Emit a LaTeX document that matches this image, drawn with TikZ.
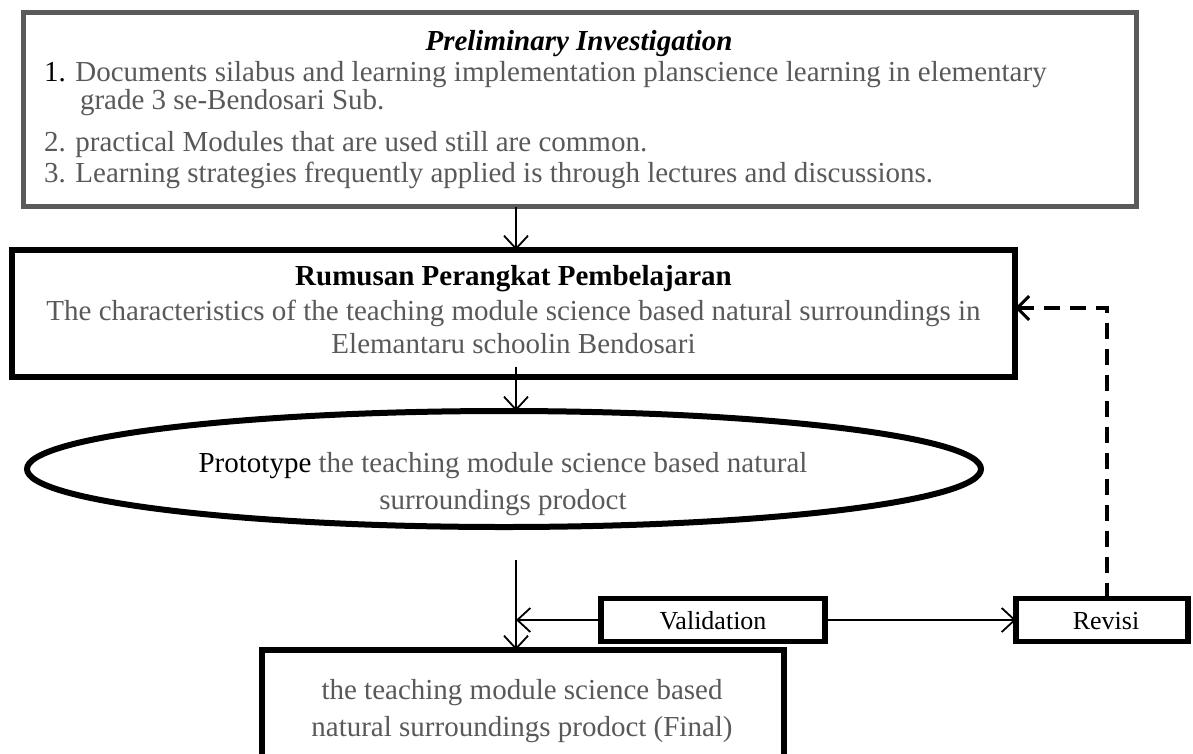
\documentclass[tikz,border=0pt]{standalone}
\usepackage{fontspec}
\setmainfont{Liberation Serif}
\usetikzlibrary{arrows.meta,shapes.geometric}
\definecolor{txtgray}{HTML}{595959}
\definecolor{boxgray}{HTML}{5A5A5A}
\begin{document}
\begin{tikzpicture}[x=1pt,y=-1pt,
  every node/.style={inner sep=0pt,outer sep=0pt},
  txt/.style={font=\fontsize{29}{34}\selectfont,text=txtgray},
  blk/.style={font=\fontsize{29}{34}\selectfont,text=black},
  small/.style={font=\fontsize{26}{30}\selectfont,text=black},
  box/.style={draw=black,line width=5.5pt,rectangle},
  arr/.style={line width=1.8pt,-{Straight Barb[length=13pt,width=24pt,line width=1.8pt]}},
  dasharr/.style={line width=4pt,dash pattern=on 16pt off 10pt,-{Straight Barb[length=12pt,width=24pt,line width=3pt]}}]
\useasboundingbox (0,0) rectangle (1193,753);
% top box
\node[draw=boxgray,line width=5pt,minimum width=1113pt,minimum height=194pt] (prelim) at (580,109.5) {};
\node[blk,anchor=base,font=\fontsize{29}{34}\selectfont\bfseries\itshape] (ptitle) at (579,50) {Preliminary Investigation};
\node[txt,anchor=base west] (p1) at (44,81) {\textcolor{black}{1.} Documents silabus and learning implementation planscience learning in elementary};
\node[txt,anchor=base west] (p1b) at (80,109) {grade 3 se-Bendosari Sub.};
\node[txt,anchor=base west] (p2) at (44,151) {2. practical Modules that are used still are common.};
\node[txt,anchor=base west] (p3) at (44,182) {3. Learning strategies frequently applied is through lectures and discussions.};
% rumusan box
\node[box,line width=6pt,minimum width=1003pt,minimum height=127pt] (rum) at (513.5,313.5) {};
\node[blk,anchor=base,font=\fontsize{29}{34}\selectfont\bfseries] (rtitle) at (513.5,285) {Rumusan Perangkat Pembelajaran};
\node[txt,anchor=base] (r1) at (513.5,320) {The characteristics of the teaching module science based natural surroundings in};
\node[txt,anchor=base] (r2) at (513.5,353) {Elemantaru schoolin Bendosari};
% ellipse
\node[draw=black,line width=6pt,ellipse,minimum width=954pt,minimum height=116pt] (proto) at (504,469) {};
\node[txt,anchor=base] (e1) at (503,472) {\textcolor{black}{Prototype} the teaching module science based natural};
\node[txt,anchor=base] (e2) at (503,509) {surroundings prodoct};
% validation and revisi
\node[box,minimum width=224pt,minimum height=43pt] (val) at (713,620) {};
\node[small,anchor=base] (valt) at (713,629) {Validation};
\node[box,minimum width=172pt,minimum height=43pt] (rev) at (1102,620) {};
\node[small,anchor=base] (revt) at (1106,629) {Revisi};
% final box
\node[box,line width=6pt,minimum width=522pt,minimum height=110pt] (fin) at (523,705) {};
\node[txt,anchor=base] (f1) at (522,699) {the teaching module science based};
\node[txt,anchor=base] (f2) at (522,736) {natural surroundings prodoct (Final)};
% connectors
\coordinate (a1) at (516,0);
\draw[arr] (prelim.south -| a1) -- (rum.north -| a1);
\coordinate (a2) at (516,367);
\draw[arr] (a2) -- (a2 |- proto.north);
\coordinate (a3) at (516,560);
\draw[arr] (a3) -- (a3 |- fin.north);
\draw[arr] (val.west) -- (val.west -| a3);
\draw[arr] (val.east) -- (rev.west);
\coordinate (dy) at (1107,308);
\draw[dasharr] (rev.north -| dy) -- (dy) -- (rum.east |- dy);
\end{tikzpicture}
\end{document}
